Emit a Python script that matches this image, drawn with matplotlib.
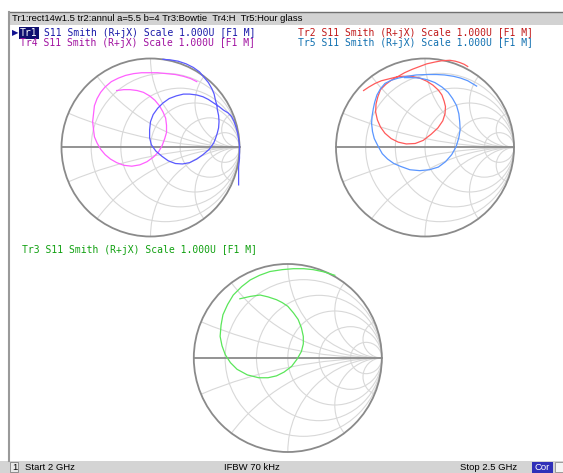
import matplotlib.pyplot as plt
from matplotlib.patches import Circle, Rectangle

W, H = 563, 473

# ---------------------------------------------------- TRACE DATA (reflection coefficient, Re / Im) ----------------------------
tr1_re = [0.14, 0.22, 0.31, 0.40, 0.48, 0.55, 0.60, 0.65, 0.69, 0.715, 0.73, 0.745, 0.75, 0.765, 0.77, 0.765, 0.75,
          0.73, 0.71, 0.66, 0.59, 0.52, 0.44, 0.36, 0.28, 0.20, 0.13, 0.06, 0.01, -0.01, -0.01, 0.00, 0.03, 0.08,
          0.14, 0.21, 0.29, 0.37, 0.44, 0.52, 0.59, 0.65, 0.71, 0.77, 0.82, 0.87, 0.91, 0.94, 0.96, 0.98, 0.99,
          1.00, 1.00, 1.00, 0.99, 0.99, 0.99]
tr1_im = [0.99, 0.985, 0.97, 0.94, 0.90, 0.85, 0.79, 0.73, 0.66, 0.60, 0.53, 0.48, 0.43, 0.36, 0.29, 0.22, 0.16,
          0.10, 0.05, -0.02, -0.08, -0.13, -0.17, -0.185, -0.18, -0.15, -0.10, -0.04, 0.03, 0.11, 0.20, 0.29, 0.37,
          0.44, 0.50, 0.55, 0.58, 0.60, 0.60, 0.59, 0.57, 0.54, 0.50, 0.46, 0.42, 0.39, 0.35, 0.29, 0.23, 0.16,
          0.10, 0.03, -0.03, -0.12, -0.22, -0.32, -0.42]

tr4_re = [0.52, 0.45, 0.37, 0.28, 0.18, 0.08, -0.01, -0.10, -0.19, -0.28, -0.36, -0.44, -0.51, -0.56, -0.60, -0.63,
          -0.64, -0.65, -0.64, -0.63, -0.60, -0.56, -0.51, -0.45, -0.38, -0.30, -0.21, -0.12, -0.04, 0.03, 0.09,
          0.13, 0.16, 0.18, 0.18, 0.17, 0.14, 0.10, 0.05, -0.01, -0.08, -0.15, -0.23, -0.30, -0.38]
tr4_im = [0.74, 0.775, 0.80, 0.82, 0.83, 0.84, 0.84, 0.84, 0.83, 0.81, 0.78, 0.74, 0.68, 0.62, 0.55, 0.47,
          0.38, 0.29, 0.20, 0.12, 0.05, -0.02, -0.08, -0.13, -0.17, -0.20, -0.21, -0.195, -0.16, -0.11, -0.05,
          0.02, 0.10, 0.17, 0.25, 0.33, 0.40, 0.47, 0.53, 0.58, 0.62, 0.64, 0.65, 0.65, 0.64]

tr2_re = [-0.69, -0.63, -0.56, -0.49, -0.41, -0.33, -0.25, -0.15, -0.06, 0.02, 0.09, 0.15, 0.19, 0.215, 0.23,
          0.225, 0.20, 0.145, 0.07, -0.02, -0.11, -0.21, -0.30, -0.38, -0.45, -0.50, -0.535, -0.555, -0.55,
          -0.53, -0.50, -0.44, -0.38, -0.30, -0.23, -0.14, -0.06, 0.02, 0.11, 0.19, 0.28, 0.34, 0.39, 0.44, 0.48]
tr2_im = [0.64, 0.68, 0.72, 0.75, 0.77, 0.79, 0.80, 0.80, 0.78, 0.745, 0.70, 0.645, 0.59, 0.52, 0.46,
          0.38, 0.30, 0.22, 0.15, 0.08, 0.045, 0.04, 0.06, 0.10, 0.16, 0.23, 0.31, 0.40, 0.49,
          0.57, 0.65, 0.71, 0.755, 0.80, 0.84, 0.88, 0.91, 0.94, 0.96, 0.975, 0.98, 0.97, 0.955, 0.935, 0.91]

tr5_re = [0.58, 0.53, 0.48, 0.40, 0.32, 0.22, 0.13, 0.02, -0.10, -0.20, -0.30, -0.38, -0.45, -0.50, -0.54,
          -0.565, -0.58, -0.595, -0.60, -0.59, -0.57, -0.53, -0.48, -0.42, -0.35, -0.28, -0.17, -0.06, 0.05,
          0.15, 0.23, 0.30, 0.35, 0.38, 0.395, 0.39, 0.38, 0.355, 0.31, 0.26, 0.19, 0.11, 0.03, -0.06, -0.14, -0.23]
tr5_im = [0.69, 0.72, 0.75, 0.78, 0.80, 0.815, 0.82, 0.82, 0.815, 0.80, 0.78, 0.755, 0.72, 0.66, 0.59,
          0.51, 0.44, 0.35, 0.27, 0.18, 0.10, 0.02, -0.07, -0.13, -0.18, -0.21, -0.25, -0.26, -0.25,
          -0.22, -0.16, -0.08, 0.01, 0.11, 0.20, 0.29, 0.38, 0.47, 0.55, 0.62, 0.68, 0.73, 0.76, 0.78, 0.785, 0.785]

tr3_re = [0.50, 0.39, 0.27, 0.17, 0.06, -0.06, -0.19, -0.30, -0.40, -0.49, -0.58, -0.64, -0.69, -0.71, -0.72,
          -0.70, -0.665, -0.61, -0.54, -0.43, -0.31, -0.21, -0.12, -0.04, 0.04, 0.10, 0.145, 0.165, 0.165, 0.145,
          0.11, 0.06, 0.00, -0.06, -0.12, -0.21, -0.295, -0.40, -0.51]
tr3_im = [0.88, 0.915, 0.94, 0.95, 0.95, 0.94, 0.92, 0.88, 0.83, 0.76, 0.67, 0.57, 0.46, 0.35, 0.23,
          0.13, 0.035, -0.05, -0.12, -0.18, -0.21, -0.21, -0.19, -0.15, -0.09, -0.01, 0.07, 0.15, 0.23, 0.32,
          0.41, 0.48, 0.55, 0.59, 0.62, 0.65, 0.67, 0.655, 0.63]

grid_r = [0.2, 0.5, 1, 2, 5]
grid_x = [0.2, 0.5, 1, 2, 5]

labels_top = ["S11 Smith (R+jX) Scale 1.000U [F1 M]", "Tr4 S11 Smith (R+jX) Scale 1.000U [F1 M]",
              "Tr2 S11 Smith (R+jX) Scale 1.000U [F1 M]", "Tr5 S11 Smith (R+jX) Scale 1.000U [F1 M]"]
label_tr3 = "Tr3 S11 Smith (R+jX) Scale 1.000U [F1 M]"
title = "Tr1:rect14w1.5 tr2:annul a=5.5 b=4 Tr3:Bowtie  Tr4:H  Tr5:Hour glass"


def fx(x):
    return x / W


def fy(y):
    return 1 - y / H


def smith_axes(fig, cx, cy, R):
    half = 1.1 * R
    ax = fig.add_axes([fx(cx - half), fy(cy + half), 2 * half / W, 2 * half / H])
    ax.set_xlim(-1.1, 1.1)
    ax.set_ylim(-1.1, 1.1)
    ax.axis('off')
    edge = Circle((0, 0), 1, fill=False, ec='#8a8a8a', lw=1.3, zorder=3)
    ax.add_patch(edge)
    for r in grid_r:
        ax.add_patch(Circle((r / (1 + r), 0), 1 / (1 + r), fill=False, ec='#d8d8d8', lw=0.8, zorder=1))
    for x in grid_x:
        for s in (1, -1):
            c = Circle((1, s / x), 1 / x, fill=False, ec='#d8d8d8', lw=0.8, zorder=1)
            ax.add_patch(c)
            c.set_clip_path(edge)
    ax.plot([-1, 1], [0, 0], color='#8a8a8a', lw=1.3, zorder=2)
    return ax


fig = plt.figure(figsize=(W / 100, H / 100), dpi=100)

#----------------------------------------------------------FRAME--------------------------------------------------------------
fig.add_artist(Rectangle((fx(10), fy(25)), 1, 13 / H, transform=fig.transFigure, fc='#d2d2d2', ec='none'))
fig.add_artist(plt.Line2D([fx(10), 1], [fy(12), fy(12)], transform=fig.transFigure, color='#707070', lw=1))
fig.add_artist(plt.Line2D([fx(9), fx(9)], [fy(12), fy(461)], transform=fig.transFigure, color='#9a9a9a', lw=1.5))
fig.add_artist(Rectangle((0, 0), 1, 12 / H, transform=fig.transFigure, fc='#d4d4d4', ec='none'))
fig.add_artist(Rectangle((fx(10), fy(472)), 8 / W, 10 / H, transform=fig.transFigure, fc='#e8e8e8', ec='#808080', lw=0.6))
fig.add_artist(Rectangle((fx(532), fy(473)), 21 / W, 11 / H, transform=fig.transFigure, fc='#3030b8', ec='none'))
fig.add_artist(Rectangle((fx(555), fy(472)), 8 / W, 10 / H, transform=fig.transFigure, fc='#f4f4f4', ec='#909090', lw=0.6))

sans = dict(fontsize=6.8, family='Liberation Sans', va='center')
fig.text(fx(12), fy(18.5), title, **sans)
fig.text(fx(12), fy(467), "1", **sans)
fig.text(fx(25), fy(467), "Start 2 GHz", **sans)
fig.text(fx(252), fy(467), "IFBW 70 kHz", ha='center', **sans)
fig.text(fx(517), fy(467), "Stop 2.5 GHz", ha='right', **sans)
fig.text(fx(542.5), fy(467.5), "Cor", ha='center', color='white', **sans)

#----------------------------------------------------------TRACE LABELS-------------------------------------------------------
mono = dict(fontsize=7.05, family='DejaVu Sans Mono', va='center')
cw = 0.602 * 7.05 * 100 / 72                         # monospace character width in px
fig.text(fx(12), fy(33), "\u25b6", fontsize=6, color='#101090', va='center')
fig.text(fx(20), fy(33), "Tr1", color='white', bbox=dict(fc='#101070', ec='none', pad=0.6), **mono)
fig.text(fx(20 + 4 * cw), fy(33), labels_top[0], color='#1818a8', **mono)
fig.text(fx(20), fy(43.5), labels_top[1], color='#a010a0', **mono)
fig.text(fx(298), fy(33), labels_top[2], color='#c01818', **mono)
fig.text(fx(298), fy(43.5), labels_top[3], color='#1070b0', **mono)
fig.text(fx(22), fy(250), label_tr3, color='#10a010', **mono)

#----------------------------------------------------------SMITH CHARTS-------------------------------------------------------
ax1 = smith_axes(fig, 150.5, 147.5, 89)
ax1.plot(tr4_re, tr4_im, color='#ff60ff', lw=0.9, zorder=4)
ax1.plot(tr1_re, tr1_im, color='#5a5aff', lw=0.9, zorder=4)

ax2 = smith_axes(fig, 425, 147.5, 89)
ax2.plot(tr2_re, tr2_im, color='#ff5a5a', lw=0.9, zorder=4)
ax2.plot(tr5_re, tr5_im, color='#5a96ff', lw=0.9, zorder=4)

ax3 = smith_axes(fig, 287.8, 358, 94)
ax3.plot(tr3_re, tr3_im, color='#5ae65a', lw=0.9, zorder=4)

fig.savefig("out.png", dpi=100)
